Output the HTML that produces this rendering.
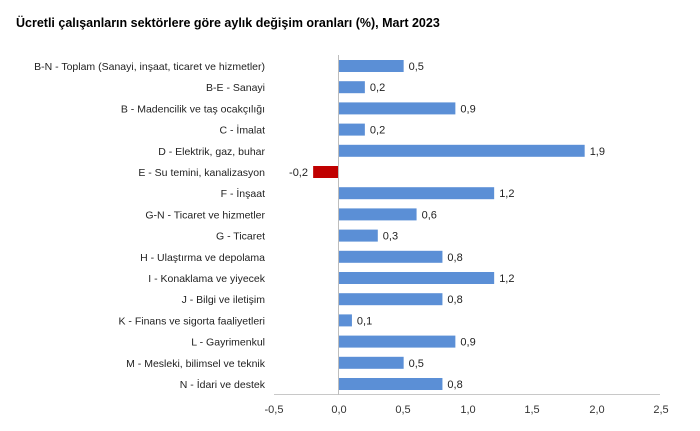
<!DOCTYPE html>
<html><head><meta charset="utf-8"><style>
body{margin:0;background:#fff;}
svg text{font-family:"Liberation Sans",Arial,sans-serif;}
</style></head><body>
<svg width="700" height="426" viewBox="0 0 700 426" xmlns="http://www.w3.org/2000/svg">
<text x="16" y="27" font-size="12.5" font-weight="bold" fill="#000">Ücretli çalışanların sektörlere göre aylık değişim oranları (%), Mart 2023</text>
<line x1="274" y1="394.5" x2="660" y2="394.5" stroke="#c8c8c8" stroke-width="1"/>
<g font-size="11" fill="#333" text-anchor="middle">
<text x="274" y="413">-0,5</text><text x="339" y="413">0,0</text><text x="403" y="413">0,5</text><text x="468" y="413">1,0</text><text x="532" y="413">1,5</text><text x="597" y="413">2,0</text><text x="661" y="413">2,5</text>
</g>
<g fill="#5b8fd6">
<rect x="339" y="60" width="64.65" height="12"/>
<rect x="339" y="81.2" width="25.86" height="12"/>
<rect x="339" y="102.4" width="116.37" height="12"/>
<rect x="339" y="123.6" width="25.86" height="12"/>
<rect x="339" y="144.8" width="245.67" height="12"/>
<rect x="339" y="187.2" width="155.16" height="12"/>
<rect x="339" y="208.4" width="77.58" height="12"/>
<rect x="339" y="229.6" width="38.79" height="12"/>
<rect x="339" y="250.8" width="103.44" height="12"/>
<rect x="339" y="272" width="155.16" height="12"/>
<rect x="339" y="293.2" width="103.44" height="12"/>
<rect x="339" y="314.4" width="12.93" height="12"/>
<rect x="339" y="335.6" width="116.37" height="12"/>
<rect x="339" y="356.8" width="64.65" height="12"/>
<rect x="339" y="378" width="103.44" height="12"/>
</g>
<rect x="313.14" y="166" width="25.86" height="12" fill="#c00000"/>
<line x1="338.5" y1="55" x2="338.5" y2="395" stroke="#bdbdbd" stroke-width="1"/>
<g font-size="10.5" fill="#222" text-anchor="end">
<text x="265" y="70">B-N - Toplam (Sanayi, inşaat, ticaret ve hizmetler)</text>
<text x="265" y="91.2">B-E - Sanayi</text>
<text x="265" y="112.4">B - Madencilik ve taş ocakçılığı</text>
<text x="265" y="133.6">C - İmalat</text>
<text x="265" y="154.8">D - Elektrik, gaz, buhar</text>
<text x="265" y="176">E - Su temini, kanalizasyon</text>
<text x="265" y="197.2">F - İnşaat</text>
<text x="265" y="218.4">G-N - Ticaret ve hizmetler</text>
<text x="265" y="239.6">G - Ticaret</text>
<text x="265" y="260.8">H - Ulaştırma ve depolama</text>
<text x="265" y="282">I - Konaklama ve yiyecek</text>
<text x="265" y="303.2">J - Bilgi ve iletişim</text>
<text x="265" y="324.4">K - Finans ve sigorta faaliyetleri</text>
<text x="265" y="345.6">L - Gayrimenkul</text>
<text x="265" y="366.8">M - Mesleki, bilimsel ve teknik</text>
<text x="265" y="388">N - İdari ve destek</text>
<text x="308" y="176" font-size="11">-0,2</text>
</g>
<g font-size="11" fill="#222">
<text x="408.6" y="70">0,5</text>
<text x="369.9" y="91.2">0,2</text>
<text x="460.4" y="112.4">0,9</text>
<text x="369.9" y="133.6">0,2</text>
<text x="589.7" y="154.8">1,9</text>
<text x="499.2" y="197.2">1,2</text>
<text x="421.6" y="218.4">0,6</text>
<text x="382.8" y="239.6">0,3</text>
<text x="447.4" y="260.8">0,8</text>
<text x="499.2" y="282">1,2</text>
<text x="447.4" y="303.2">0,8</text>
<text x="356.9" y="324.4">0,1</text>
<text x="460.4" y="345.6">0,9</text>
<text x="408.6" y="366.8">0,5</text>
<text x="447.4" y="388">0,8</text>
</g>
</svg>
</body></html>
